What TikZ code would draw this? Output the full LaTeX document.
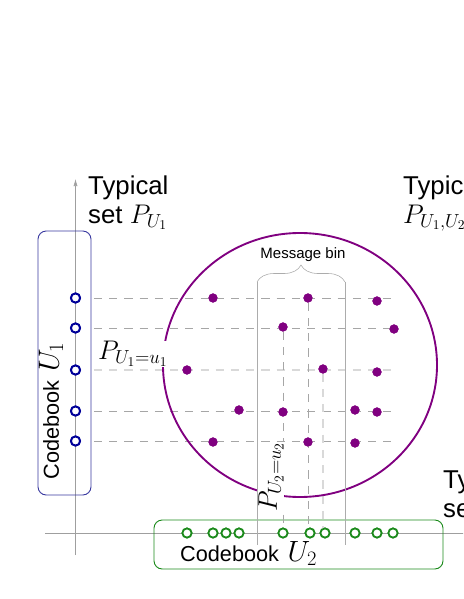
\RequirePackage{fix-cm}
\documentclass[tikz,border=0pt]{standalone}
\usepackage{fontspec}
\setmainfont{Liberation Sans}
\usetikzlibrary{decorations.pathreplacing,arrows.meta}
\definecolor{cb-navy}{HTML}{000099}
\definecolor{cb-blue}{HTML}{3A3AA0}
\definecolor{cb-green}{HTML}{1B8A1B}
\definecolor{jt-purple}{HTML}{800080}
\newcommand{\pmath}[1]{{\fontsize{23}{25}\selectfont$#1$}}
\newcommand{\bmath}[1]{{\fontsize{25}{27}\selectfont$#1$}}

\begin{document}
\begin{tikzpicture}[x=0.3mm, y=-0.3mm,
    axis/.style={draw=gray!75, line width=0.5pt},
    hline/.style={draw=gray!70, line width=0.6pt, dash pattern=on 7pt off 6pt},
    chosen/.style={draw=gray!30, line width=1.3pt, dash pattern=on 7pt off 6pt},
    binline/.style={draw=gray!65, line width=0.5pt},
    cwa/.style={circle, draw=cb-navy, fill=white, line width=1.6pt, minimum size=7.8pt, inner sep=0pt},
    cwb/.style={circle, draw=cb-green, fill=white, line width=1.5pt, minimum size=7.8pt, inner sep=0pt},
    jt/.style={circle, fill=jt-purple, minimum size=7.8pt, inner sep=0pt},
    book/.style={rounded corners=7pt, line width=0.8pt},
    setlbl/.style={font=\fontsize{22}{24}\selectfont, align=left, inner sep=0pt, anchor=north west},
    booklbl/.style={font=\fontsize{18.5}{20}\selectfont, inner sep=0pt},
    ulabel/.style={fill=white, inner sep=0.5pt, font=\fontsize{23}{25}\selectfont}
]
    \clip (0,0) rectangle (463,599);

    % axes
    \coordinate (ybot) at (75.5,555);
    \coordinate (ytop) at (75.5,179);
    \coordinate (xleft) at (45,533);
    \coordinate (xright) at (470,533);
    \draw[axis, -{Latex[length=6pt,width=3.5pt]}] (ybot) -- (ytop);
    \draw[axis] (xleft) -- (xright);

    % codebook boxes
    \draw[book, draw=cb-blue] (38,231) rectangle (91,495);
    \draw[book, draw=cb-green] (154,520) rectangle (443,569);

    % codewords of U1
    \node[cwa] (cw1) at (75.5,298) {};
    \node[cwa] (cw2) at (75.5,328) {};
    \node[cwa] (cw3) at (75.5,370) {};
    \node[cwa] (cw4) at (75.5,411) {};
    \node[cwa] (cw5) at (75.5,441) {};

    % codewords of U2
    \node[cwb] (cv1) at (187,533) {};
    \node[cwb] (cv2) at (213,533) {};
    \node[cwb] (cv3) at (226,533) {};
    \node[cwb] (cv4) at (239,533) {};
    \node[cwb] (cv5) at (283,533) {};
    \node[cwb] (cv6) at (310,533) {};
    \node[cwb] (cv7) at (325,533) {};
    \node[cwb] (cv8) at (355,533) {};
    \node[cwb] (cv9) at (377,533) {};
    \node[cwb] (cv10) at (393,533) {};

    % jointly typical pairs
    \node[jt] (d1) at (213,298) {};
    \node[jt] (d2) at (308,298) {};
    \node[jt] (d3) at (377,301) {};
    \node[jt] (d4) at (283,327) {};
    \node[jt] (d5) at (394,329) {};
    \node[jt] (d6) at (187,370) {};
    \node[jt] (d7) at (323,369) {};
    \node[jt] (d8) at (377,372) {};
    \node[jt] (d9) at (239,410) {};
    \node[jt] (d10) at (283,412) {};
    \node[jt] (d11) at (355,410) {};
    \node[jt] (d12) at (377,412) {};
    \node[jt] (d13) at (213,442) {};
    \node[jt] (d14) at (308,442) {};
    \node[jt] (d15) at (355,443) {};

    % dashed guides
    \coordinate (hend) at (397,0);
    \draw[hline, shorten <=11pt] (cw1) -- (cw1 -| hend);
    \draw[hline, shorten <=11pt] (cw2) -- (cw2 -| hend);
    \draw[chosen, shorten <=11pt] (cw3) -- (cw3 -| hend);
    \draw[hline, shorten <=11pt] (cw4) -- (cw4 -| hend);
    \draw[hline, shorten <=11pt] (cw5) -- (cw5 -| hend);
    \draw[hline] (d4) -- (d4 |- cv5);
    \draw[hline] (d2) -- (d2 |- cv6);
    \draw[chosen] (d7) -- (d7 |- cv7);

    % typical set of the pair
    \draw[jt-purple, line width=1.6pt] (300,365) ellipse [x radius=137, y radius=132];
    \node[ulabel] (pu1) at (133,354) {$P_{U_1=u_1}$};
    \node[ulabel, rotate=90] (pu2) at (271,477) {$P_{U_2=u_2}$};

    % message bin
    \coordinate (binl) at (257,282);
    \coordinate (binr) at (345,282);
    \coordinate (binlb) at (257,545);
    \coordinate (binrb) at (345,545);
    \draw[binline] (binl) -- (binlb);
    \draw[binline] (binr) -- (binrb);
    \draw[binline, decorate, decoration={brace, amplitude=14.5pt}] (binl) -- (binr);
    \node[font=\fontsize{12.8}{14}\selectfont] (bin) at (303,255) {Message bin};

    % redraw points over the guides
    \foreach \n in {cw1,cw2,cw3,cw4,cw5}
        \node[cwa] at (\n) {};
    \foreach \n in {cv1,cv2,cv3,cv4,cv5,cv6,cv7,cv8,cv9,cv10}
        \node[cwb] at (\n) {};
    \foreach \n in {d1,d2,d3,d4,d5,d6,d7,d8,d9,d10,d11,d12,d13,d14,d15}
        \node[jt] at (\n) {};

    % labels
    \node[setlbl] (tu1) at (88,176) {Typical\\set \pmath{P_{U_1}}};
    \node[setlbl] (tu12) at (403,176) {Typical set\\\pmath{P_{U_1,U_2}}};
    \node[setlbl] (tu2) at (443,470) {Typical\\set \pmath{P_{U_2}}};
    \node[booklbl, rotate=90] (bk1) at (51,411) {Codebook\hspace{0.4em}\bmath{U_1}};
    \node[booklbl, anchor=base west] (bk2) at (180,561) {Codebook\hspace{0.4em}\bmath{U_2}};
\end{tikzpicture}
\end{document}
